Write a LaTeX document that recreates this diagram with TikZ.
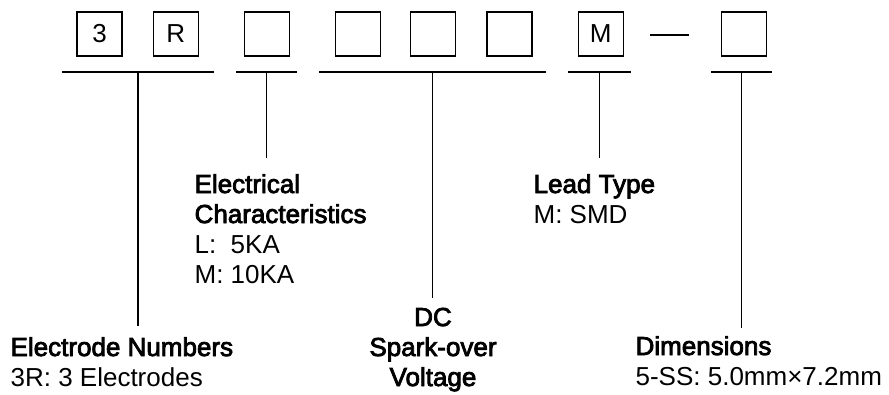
\documentclass[tikz,border=0pt]{standalone}
\usepackage{fontspec}
\setmainfont{Liberation Sans}[BoldFont={Liberation Sans},BoldFeatures={FakeBold=3}]
\usepackage{tikz}
\usetikzlibrary{calc,positioning}
\newcommand{\lblsize}{\fontsize{26}{30}\selectfont}
\tikzset{
  digit/.style={draw,minimum width=45pt,minimum height=44pt,inner sep=0pt,font=\lblsize},
  lbl/.style={inner sep=0pt,align=left,font=\lblsize},
}

\begin{document}
\begin{tikzpicture}[x=1pt,y=-1pt,line width=1.2pt]
    \useasboundingbox (0,0) rectangle (889,394);

    \node[digit] (b3) at (99.5,34) {3};
    \node[digit,right=30pt of b3] (bR) {R};
    \node[digit,right=45pt of bR] (bE) {};
    \node[digit,right=45pt of bE] (bV1) {};
    \node[digit,right=29pt of bV1] (bV2) {};
    \node[digit,right=30pt of bV2] (bV3) {};
    \node[digit,right=45pt of bV3] (bM) {M};
    \node[digit,right=97pt of bM] (bD) {};

    \coordinate (d1) at (650,35);
    \coordinate (d2) at (689,35);
    \draw (d1) -- (d2);

    \coordinate (a1) at (62,72);
    \coordinate (a2) at (214,72);
    \coordinate (c1) at (236,72);
    \coordinate (c2) at (297,72);
    \coordinate (v1) at (319,72);
    \coordinate (v2) at (546,72);
    \coordinate (m1) at (568,72);
    \coordinate (m2) at (631,72);
    \coordinate (s1) at (711,72);
    \coordinate (s2) at (772,72);

    \draw (a1) -- (a2) coordinate[pos=0.5] (aa);
    \draw (c1) -- (c2) coordinate[pos=0.5] (cc);
    \draw (v1) -- (v2) coordinate[pos=0.5] (vv);
    \draw (m1) -- (m2) coordinate[pos=0.5] (mm);
    \draw (s1) -- (s2) coordinate[pos=0.5] (ss);

    \coordinate (aend) at ($(aa)+(0,254)$);
    \coordinate (cend) at ($(cc)+(0,86)$);
    \coordinate (vend) at ($(vv)+(0,226)$);
    \coordinate (mend) at ($(mm)+(0,86)$);
    \coordinate (send) at ($(ss)+(0,256)$);

    \draw (aa) -- (aend);
    \draw (cc) -- (cend);
    \draw (vv) -- (vend);
    \draw (mm) -- (mend);
    \draw (ss) -- (send);

    % base anchor sits on the last line
    \node[lbl,anchor=base west] (num) at (10,386) {\textbf{Electrode Numbers}\\3R: 3 Electrodes};
    \node[lbl,anchor=base west] (elec) at (194,283) {\textbf{Electrical}\\\textbf{Characteristics}\\L:~~5KA\\M: 10KA};
    \node[lbl,align=center,anchor=base] (volt) at (433,386) {\textbf{DC}\\\textbf{Spark-over}\\\textbf{Voltage}};
    \node[lbl,anchor=base west] (lead) at (533,223) {\textbf{Lead Type}\\M: SMD};
    \node[lbl,anchor=base west] (dim) at (635,385) {\textbf{Dimensions}\\5-SS: 5.0mm×7.2mm};
\end{tikzpicture}
\end{document}
